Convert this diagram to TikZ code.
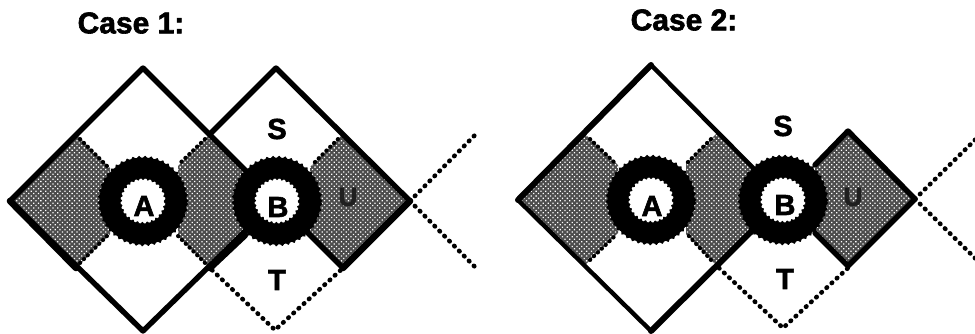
\documentclass[tikz,border=0pt]{standalone}
\usepackage{fontspec}
\setmainfont{Liberation Sans}[BoldFeatures={FakeBold=2}]
\usetikzlibrary{patterns.meta}
\tikzset{
  x=1pt,y=-1pt,
  outline/.style={draw=black,line width=5.4pt,line join=round,line cap=round},
  dotline/.style={draw=black,line width=4.6pt,line cap=round,dash pattern=on 0.6pt off 6.4pt},
  shade/.style={preaction={fill=black!70},pattern={Dots[distance=3.4pt,radius=0.9pt,angle=45]},pattern color=white},
  scallop/.style={draw=black,line width=4pt,line cap=round,dash pattern=on 0.4pt off 5pt},
  ringout/.style={circle,fill=black,draw=black,line width=3.6pt,line cap=round,dash pattern=on 0.4pt off 5.6pt,minimum size=87pt,inner sep=0pt},
  ringin/.style={circle,fill=white,draw=black,line width=3pt,line cap=round,dash pattern=on 0.4pt off 4.6pt,minimum size=45pt,inner sep=0pt},
  letter/.style={font=\fontsize{29}{29}\selectfont\bfseries,inner sep=0pt},
  title/.style={font=\fontsize{30}{30}\selectfont\bfseries,inner sep=0pt},
  faint/.style={font=\fontsize{26}{26}\selectfont\bfseries,inner sep=0pt,text=black!88},
}
\begin{document}
\begin{tikzpicture}
\useasboundingbox (0,0) rectangle (975,333);
\fill[white] (0,0) rectangle (975,333);
\clip (0,0) rectangle (975,333);
\node[title] (c1) at (131,23) {Case 1:};
\node[title] (c2) at (684,20) {Case 2:};
% ---------- Case 1
\path[shade] (76,134)--(10,201)--(76,268)--(110,234)--(110,168)--cycle;
\path[shade] (210,134)--(276,201)--(210,268)--(178,236)--(178,166)--cycle;
\path[shade] (343,134)--(410,201)--(343,268)--(310,235)--(310,167)--cycle;
\draw[scallop] (80,139)--(109,168);
\draw[scallop] (80,263)--(109,234);
\draw[scallop] (205,139)--(178,165);
\draw[scallop] (205,263)--(178,236);
\draw[scallop] (338,139)--(312,165);
\draw[scallop] (338,263)--(312,237);
\draw[outline] (143,68)--(276,201)--(143,331)--(10,201)--cycle;
\draw[outline] (210,134)--(276,68)--(410,201)--(343,268)--(306,231);
\draw[outline,line width=6.6pt] (10,201)--(76,268) (410,201)--(343,268) (210,268)--(245,235);
\node[ringout] (ra1) at (143,201) {};
\node[ringout] (rb1) at (277,201) {};
\node[ringin] (ia1) at (143,201) {};
\node[ringin] (ib1) at (277,201) {};
\draw[dotline] (410,201)--(475,135);
\draw[dotline] (410,201)--(475,267);
\draw[dotline] (212,270)--(275,330)--(343,268);
\node[letter] (a1) at (144,206) {A};
\node[letter] (b1) at (278,207) {B};
\node[letter] (s1) at (277,129) {S};
\node[letter] (t1) at (277,280) {T};
\node[faint] (u1) at (348,197) {U};
% ---------- Case 2
\path[shade] (584,133)--(518,200)--(584,266)--(618,233)--(618,165)--cycle;
\path[shade] (717,133)--(784,199)--(717,266)--(686,234)--(686,164)--cycle;
\path[shade] (848,131)--(915,199)--(848,266)--(815,233)--(815,165)--cycle;
\draw[scallop] (590,139)--(616,164);
\draw[scallop] (590,260)--(616,235);
\draw[scallop] (711,139)--(687,163);
\draw[scallop] (711,260)--(687,234);
\draw[outline,line width=4.4pt] (651,65)--(784,199)--(651,331)--(518,200)--cycle;
\draw[outline,line width=6pt] (518,200)--(651,65) (651,331)--(784,199);
\draw[outline] (815,165)--(848,131)--(915,199)--(848,266)--(815,233);
\node[ringout] (ra2) at (651,200) {};
\node[ringout] (rb2) at (783,200) {};
\node[ringin] (ia2) at (651,200) {};
\node[ringin] (ib2) at (783,200) {};
\draw[dotline] (915,199)--(978,137);
\draw[dotline] (915,199)--(978,261);
\draw[dotline] (719,268)--(783,328)--(848,268);
\node[letter] (a2) at (652,206) {A};
\node[letter] (b2) at (785,205) {B};
\node[letter] (s2) at (783,126) {S};
\node[letter] (t2) at (785,279) {T};
\node[faint] (u2) at (853,197) {U};
\end{tikzpicture}
\end{document}
